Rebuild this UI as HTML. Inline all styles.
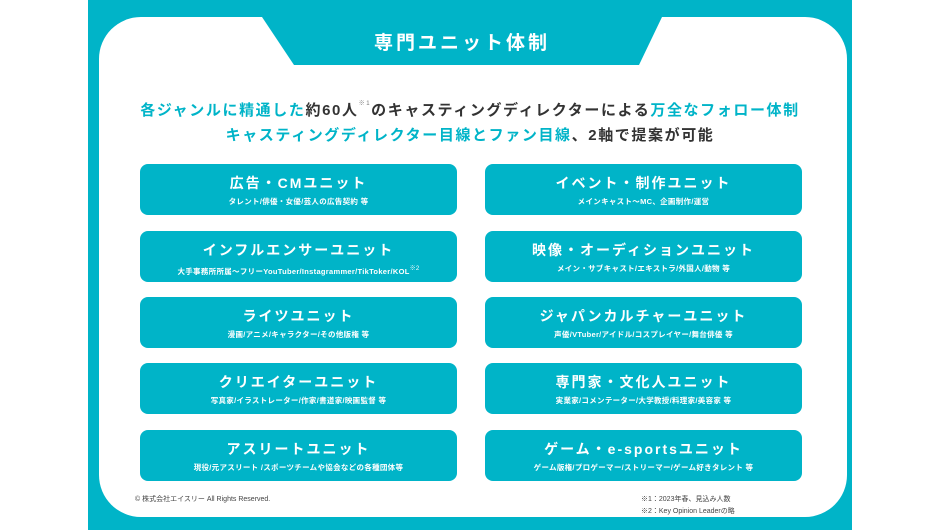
<!DOCTYPE html>
<html><head><meta charset="utf-8"><style>
*{margin:0;padding:0;box-sizing:border-box}
body{width:940px;height:530px;background:#fff;position:relative;overflow:hidden;font-family:"Liberation Sans","Noto Sans CJK JP",sans-serif}
.bg{position:absolute;left:88px;top:0;width:764px;height:530px;background:#00b4c8}
.card{position:absolute;left:99px;top:17px;width:748px;height:500px;background:#fff;border-radius:42px}
.tab{position:absolute;left:0;top:0}
.title{position:absolute;left:262px;width:400px;top:28px;text-align:center;color:#fff;font-size:19px;font-weight:bold;letter-spacing:3px}
.h{position:absolute;left:0;width:940px;text-align:center;font-size:15px;font-weight:bold;color:#333;letter-spacing:1.6px}
.t{color:#00b4c8}
sup{font-size:6px;color:#777;vertical-align:10px;font-weight:normal}
.b{position:absolute;width:317px;height:51px;background:#00b4c8;border-radius:8px;color:#fff;text-align:center}
.b .a{font-size:14px;font-weight:bold;margin-top:10px;letter-spacing:2px;line-height:18px}
.b .s{font-size:7.5px;font-weight:bold;margin-top:5px;line-height:10px;letter-spacing:0.3px}
.b sup{color:#fff;vertical-align:4px}
.f{position:absolute;font-size:7px;color:#444}
</style></head><body>
<div class="bg"></div>
<div class="card"></div>
<svg class="tab" width="940" height="100"><polygon points="262,17 662,17 639,65 294,65" fill="#00b4c8"/></svg>
<div class="title">専門ユニット体制</div>
<div class="h" style="top:98px"><span class="t">各ジャンルに精通した</span>約60人<sup>※1</sup>のキャスティングディレクターによる<span class="t">万全なフォロー体制</span></div>
<div class="h" style="top:124px"><span class="t">キャスティングディレクター目線とファン目線</span>、2軸で提案が可能</div>

<div class="b" style="left:140px;top:164px"><div class="a">広告・CMユニット</div><div class="s">タレント/俳優・女優/芸人の広告契約 等</div></div>
<div class="b" style="left:485px;top:164px"><div class="a">イベント・制作ユニット</div><div class="s">メインキャスト〜MC、企画制作/運営</div></div>
<div class="b" style="left:140px;top:231px"><div class="a">インフルエンサーユニット</div><div class="s">大手事務所所属〜フリーYouTuber/Instagrammer/TikToker/KOL<sup>※2</sup></div></div>
<div class="b" style="left:485px;top:231px"><div class="a">映像・オーディションユニット</div><div class="s">メイン・サブキャスト/エキストラ/外国人/動物 等</div></div>
<div class="b" style="left:140px;top:297px"><div class="a">ライツユニット</div><div class="s">漫画/アニメ/キャラクター/その他版権 等</div></div>
<div class="b" style="left:485px;top:297px"><div class="a">ジャパンカルチャーユニット</div><div class="s">声優/VTuber/アイドル/コスプレイヤー/舞台俳優 等</div></div>
<div class="b" style="left:140px;top:363px"><div class="a">クリエイターユニット</div><div class="s">写真家/イラストレーター/作家/書道家/映画監督 等</div></div>
<div class="b" style="left:485px;top:363px"><div class="a">専門家・文化人ユニット</div><div class="s">実業家/コメンテーター/大学教授/料理家/美容家 等</div></div>
<div class="b" style="left:140px;top:430px"><div class="a">アスリートユニット</div><div class="s">現役/元アスリート /スポーツチームや協会などの各種団体等</div></div>
<div class="b" style="left:485px;top:430px"><div class="a">ゲーム・e-sportsユニット</div><div class="s">ゲーム版権/プロゲーマー/ストリーマー/ゲーム好きタレント 等</div></div>

<div class="f" style="left:135px;top:494px">© 株式会社エイスリー All Rights Reserved.</div>
<div class="f" style="left:641px;top:494px">※1：2023年春、見込み人数</div>
<div class="f" style="left:641px;top:506px">※2：Key Opinion Leaderの略</div>
</body></html>
